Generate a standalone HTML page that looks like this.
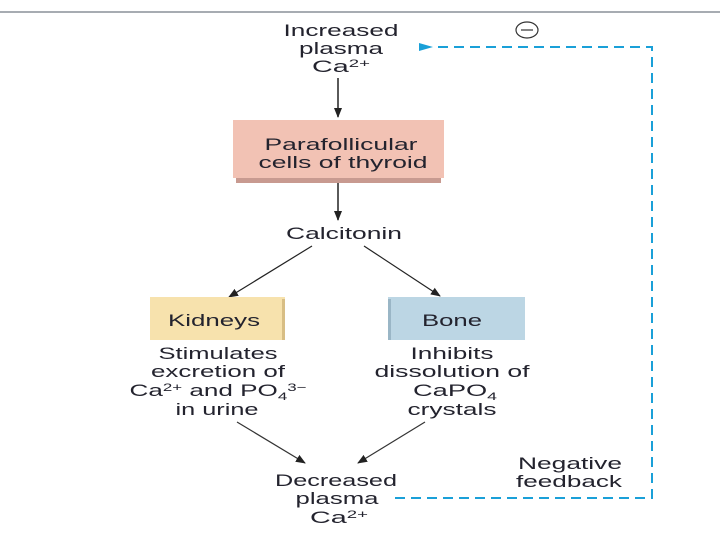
<!DOCTYPE html>
<html><head><style>
body{margin:0;width:720px;height:540px;background:#fff;overflow:hidden;font-family:"Liberation Sans",sans-serif;}
svg text{font-family:"Liberation Sans",sans-serif;font-size:17px;fill:#23232e;text-anchor:middle;}
</style></head><body>
<svg width="720" height="540" viewBox="0 0 720 540">
<defs>
<marker id="a" markerWidth="10" markerHeight="10" refX="9" refY="5" orient="auto" markerUnits="userSpaceOnUse"><path d="M0,1 L10,5 L0,9 z" fill="#222"/></marker>
<marker id="b" markerWidth="14" markerHeight="10" refX="1" refY="5" orient="auto" markerUnits="userSpaceOnUse"><path d="M14,1 L0,5 L14,9 z" fill="#1aa0d8"/></marker>
</defs>
<line x1="0" y1="12" x2="720" y2="12" stroke="#8a9098" stroke-width="1.5"/>
<text x="341" y="36" textLength="115" lengthAdjust="spacingAndGlyphs">Increased</text>
<text x="341" y="54" textLength="84" lengthAdjust="spacingAndGlyphs">plasma</text>
<text x="341" y="72" textLength="58" lengthAdjust="spacingAndGlyphs">Ca<tspan font-size="11" dy="-5">2+</tspan></text>
<line x1="338" y1="78" x2="338" y2="117" stroke="#222" stroke-width="1.5" marker-end="url(#a)"/>
<rect x="233" y="120" width="211" height="58" fill="#f2c2b4"/>
<rect x="236" y="178" width="205" height="5" fill="#c89a90"/>
<text x="341" y="150" textLength="153" lengthAdjust="spacingAndGlyphs">Parafollicular</text>
<text x="343" y="168" textLength="169" lengthAdjust="spacingAndGlyphs">cells of thyroid</text>
<line x1="338" y1="183" x2="338" y2="220" stroke="#222" stroke-width="1.5" marker-end="url(#a)"/>
<text x="344" y="239" textLength="116" lengthAdjust="spacingAndGlyphs">Calcitonin</text>
<line x1="312" y1="246" x2="229" y2="297" stroke="#222" stroke-width="1.2" marker-end="url(#a)"/>
<line x1="364" y1="246" x2="440" y2="296" stroke="#222" stroke-width="1.2" marker-end="url(#a)"/>
<rect x="150" y="297" width="135" height="43" fill="#f7e2ad"/>
<rect x="282" y="299" width="3" height="41" fill="#d8be85"/>
<text x="214" y="326" textLength="92" lengthAdjust="spacingAndGlyphs">Kidneys</text>
<rect x="388" y="297" width="137" height="43" fill="#bcd6e4"/>
<rect x="388" y="299" width="3" height="41" fill="#9ab6c6"/>
<text x="452" y="326" textLength="60" lengthAdjust="spacingAndGlyphs">Bone</text>
<text x="218" y="359" textLength="119" lengthAdjust="spacingAndGlyphs">Stimulates</text>
<text x="218" y="377" textLength="134" lengthAdjust="spacingAndGlyphs">excretion of</text>
<text x="218" y="396" textLength="177" lengthAdjust="spacingAndGlyphs">Ca<tspan font-size="11" dy="-5">2+</tspan><tspan dy="5"> and PO</tspan><tspan font-size="11" dy="4">4</tspan><tspan font-size="11" dy="-9">3−</tspan></text>
<text x="217" y="415" textLength="83" lengthAdjust="spacingAndGlyphs">in urine</text>
<text x="452" y="359" textLength="83" lengthAdjust="spacingAndGlyphs">Inhibits</text>
<text x="452" y="377" textLength="155" lengthAdjust="spacingAndGlyphs">dissolution of</text>
<text x="455" y="396" textLength="84" lengthAdjust="spacingAndGlyphs">CaPO<tspan font-size="11" dy="4">4</tspan></text>
<text x="452" y="415" textLength="89" lengthAdjust="spacingAndGlyphs">crystals</text>
<line x1="237" y1="422" x2="305" y2="463" stroke="#333" stroke-width="1.2" marker-end="url(#a)"/>
<line x1="425" y1="422" x2="358" y2="463" stroke="#333" stroke-width="1.2" marker-end="url(#a)"/>
<text x="336" y="486" textLength="122" lengthAdjust="spacingAndGlyphs">Decreased</text>
<text x="337" y="504" textLength="83" lengthAdjust="spacingAndGlyphs">plasma</text>
<text x="339" y="523" textLength="58" lengthAdjust="spacingAndGlyphs">Ca<tspan font-size="11" dy="-5">2+</tspan></text>
<text x="570" y="469" textLength="104" lengthAdjust="spacingAndGlyphs">Negative</text>
<text x="569" y="487" textLength="106" lengthAdjust="spacingAndGlyphs">feedback</text>
<path d="M395,498 L652,498 L652,47 L432,47" fill="none" stroke="#1aa0d8" stroke-width="2" stroke-dasharray="10,6" marker-end="url(#b)"/>
<ellipse cx="527" cy="30" rx="11" ry="8" fill="none" stroke="#333" stroke-width="1.2"/>
<line x1="521" y1="30" x2="533" y2="30" stroke="#333" stroke-width="1.2"/>
</svg>
</body></html>
